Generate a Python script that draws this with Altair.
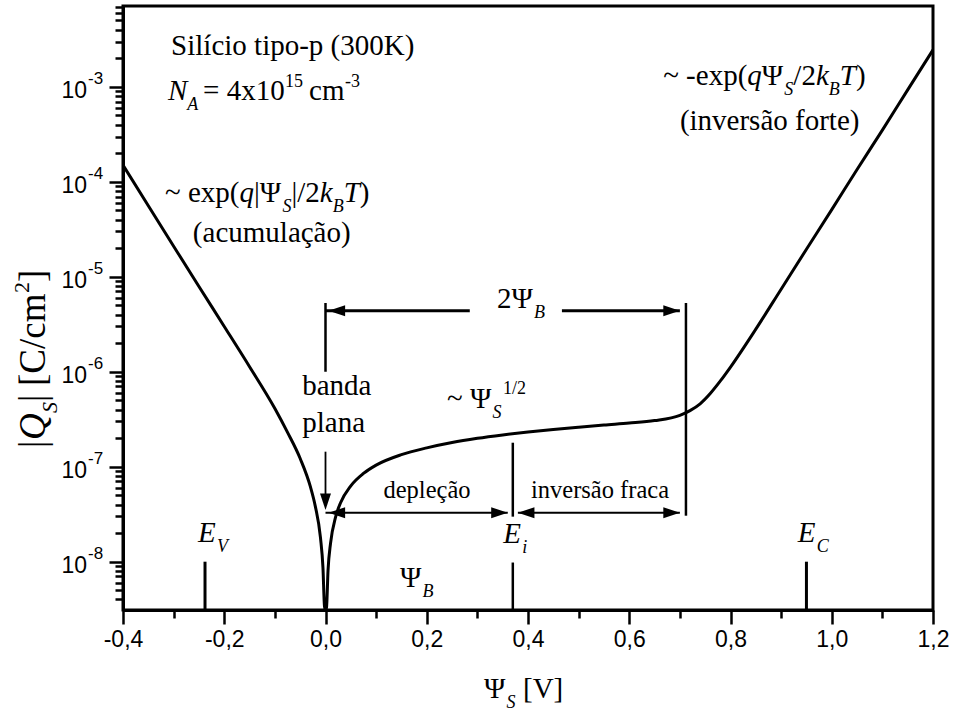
import altair as alt
import pandas as pd

# |Qs| versus surface potential, p-type Si (NA = 4e15 cm^-3, 300 K)
psi_s = [-0.40, -0.35, -0.30, -0.25, -0.20, -0.15, -0.10, -0.075, -0.05, -0.03,
         -0.02, -0.01, -0.005, -0.002, 0.0, 0.002, 0.005, 0.01, 0.02, 0.03,
         0.05, 0.075, 0.10, 0.15, 0.20, 0.25, 0.30, 0.35, 0.40, 0.45,
         0.50, 0.55, 0.60, 0.65, 0.70, 0.72, 0.74, 0.76, 0.78, 0.80,
         0.85, 0.90, 0.95, 1.00, 1.05, 1.10, 1.15, 1.20]
q_s = [1.5e-4, 5.6e-5, 2.1e-5, 7.9e-6, 3.0e-6, 1.13e-6, 4.1e-7, 2.3e-7, 1.22e-7, 6.2e-8,
       3.8e-8, 1.8e-8, 8.6e-9, 3.4e-9, 3.1e-9, 3.3e-9, 8.1e-9, 1.57e-8, 2.96e-8, 4.2e-8,
       6.3e-8, 8.5e-8, 1.04e-7, 1.34e-7, 1.58e-7, 1.80e-7, 1.99e-7, 2.16e-7, 2.32e-7, 2.47e-7,
       2.61e-7, 2.75e-7, 2.88e-7, 3.06e-7, 3.48e-7, 3.9e-7, 4.6e-7, 5.9e-7, 8.0e-7, 1.12e-6,
       2.81e-6, 7.4e-6, 1.95e-5, 5.1e-5, 1.35e-4, 3.5e-4, 9.3e-4, 2.45e-3]

# characteristic potentials (V)
psi_ev = -0.238
psi_ei = 0.370
psi_2b = 0.712
psi_ec = 0.950
psi_fb = 0.0

# vertical marker segments: x, lower |Qs|, upper |Qs|, stroke width
seg_x = [psi_ev, psi_ec, psi_ei, psi_ei, psi_fb, psi_fb, psi_2b]
seg_lo = [3.1e-9, 3.1e-9, 3.1e-9, 2.98e-8, 1.0e-6, 4.6e-8, 3.05e-8]
seg_hi = [1.0e-8, 1.0e-8, 9.8e-9, 1.79e-7, 5.3e-6, 1.44e-7, 5.3e-6]
seg_w = [3, 3, 2.5, 2.5, 2.5, 1.8, 2.5]

# horizontal arrow shafts: start, end, level, stroke width
arr_x1 = [0.0, 0.467, 0.0, 0.38]
arr_x2 = [0.285, 0.70, 0.36, 0.70]
arr_y = [4.39e-6, 4.39e-6, 3.28e-8, 3.28e-8]
arr_w = [3, 3, 2, 2]

# arrow tips
tip_r_x = [0.700, 0.360, 0.700]
tip_r_y = [4.39e-6, 3.28e-8, 3.28e-8]
tip_l_x = [0.006, 0.006, 0.380]
tip_l_y = [4.39e-6, 3.28e-8, 3.28e-8]
tip_d_x = [psi_fb]
tip_d_y = [3.5e-8]

# y tick labels (decades)
dec_vals = [1e-3, 1e-4, 1e-5, 1e-6, 1e-7, 1e-8]
dec_exp = ["-3", "-4", "-5", "-6", "-7", "-8"]

X_DOM = [-0.4, 1.2]
Y_DOM = [3.1e-9, 7.1e-3]
XS = alt.Scale(domain=X_DOM, nice=False, zero=False)
YS = alt.Scale(type="log", domain=Y_DOM, nice=False)

SERIF = "Liberation Serif"
SANS = "Liberation Sans"
BIG = 29
SMALL = 18

x_ticks = [round(-0.4 + 0.1 * i, 1) for i in range(17)]
y_ticks = [k * 10.0 ** n for n in range(-9, -2) for k in range(1, 10)]
y_ticks = [v for v in y_ticks if Y_DOM[0] <= v <= Y_DOM[1]]

X_MAJOR = "abs(datum.value*5 - round(datum.value*5)) < 0.001"
Y_MAJOR = "abs(log(datum.value)/LN10 - round(log(datum.value)/LN10)) < 0.001"

x_axis = alt.Axis(
    values=x_ticks,
    labelExpr=X_MAJOR + " ? replace(replace(format(datum.value, '.1f'), '.', ','), '\u2212', '-') : ''",
    tickSize={"condition": {"test": X_MAJOR, "value": 14}, "value": 8},
    title=None, grid=False, domainColor="black", domainWidth=3,
    tickColor="black", tickWidth=2.5, labelFont=SANS, labelFontSize=23,
    labelColor="black", labelPadding=4, labelFlush=False, labelOverlap=False,
)
y_axis = alt.Axis(
    values=y_ticks, labels=False, title=None, grid=False,
    tickSize={"condition": {"test": Y_MAJOR, "value": 14}, "value": 8},
    domainColor="black", domainWidth=3, tickColor="black", tickWidth=2.5,
)


def X(field):
    return alt.X(field, scale=XS, axis=x_axis)


def Y(field):
    return alt.Y(field, scale=YS, axis=y_axis)


curve = alt.Chart(pd.DataFrame({"psi": psi_s, "q": q_s})).mark_line(
    color="black", strokeWidth=3, interpolate="monotone", clip=True
).encode(x=X("psi:Q"), y=Y("q:Q"))

layers = [curve]

for x, lo, hi, w in zip(seg_x, seg_lo, seg_hi, seg_w):
    layers.append(alt.Chart(pd.DataFrame({"psi": [x], "q": [lo], "q2": [hi]})).mark_rule(
        color="black", strokeWidth=w
    ).encode(x=X("psi:Q"), y=Y("q:Q"), y2="q2:Q"))

for x1, x2, y, w in zip(arr_x1, arr_x2, arr_y, arr_w):
    layers.append(alt.Chart(pd.DataFrame({"psi": [x1], "psi2": [x2], "q": [y]})).mark_rule(
        color="black", strokeWidth=w
    ).encode(x=X("psi:Q"), x2="psi2:Q", y=Y("q:Q")))


def tips(xs, ys, path):
    return alt.Chart(pd.DataFrame({"psi": xs, "q": ys})).mark_point(
        shape=path, filled=True, color="black", opacity=1, size=1100, strokeWidth=0
    ).encode(x=X("psi:Q"), y=Y("q:Q"))


layers.append(tips(tip_r_x, tip_r_y, "M0,0 L-1,-0.33 L-1,0.33 Z"))
layers.append(tips(tip_l_x, tip_l_y, "M0,0 L1,-0.33 L1,0.33 Z"))
layers.append(tips(tip_d_x, tip_d_y, "M0,0 L-0.33,-1 L0.33,-1 Z"))

# decade labels on the |Qs| axis
ylab = pd.DataFrame({"q": dec_vals, "e": dec_exp, "b": ["10"] * len(dec_vals)})
layers.append(alt.Chart(ylab).mark_text(
    align="right", baseline="middle", font=SANS, fontSize=23, dx=-36, dy=4, color="black"
).encode(x=alt.value(0), y=Y("q:Q"), text="b:N"))
layers.append(alt.Chart(ylab).mark_text(
    align="left", baseline="middle", font=SANS, fontSize=17, dx=-35, dy=-8, color="black"
).encode(x=alt.value(0), y=Y("q:Q"), text="e:N"))


def piece(x, y, s, dx=0, dy=0, size=BIG, italic=False, align="left"):
    return alt.Chart(pd.DataFrame({"psi": [x], "q": [y], "t": [s]})).mark_text(
        align=align, baseline="alphabetic", font=SERIF, fontSize=size,
        fontStyle="italic" if italic else "normal", dx=dx, dy=dy, color="black"
    ).encode(x=X("psi:Q"), y=Y("q:Q"), text="t:N")


# annotations: anchor (V, C/cm^2) and pieces (text, dx, dy, size, italic)
notes = [
    (-0.305, 2.17e-3, [("Silício tipo-p (300K)", 0, 0, BIG, False)]),
    (-0.311, 7.3e-4, [("N", 0, 0, BIG, True), ("A", 19.3, 10, SMALL, True),
                      ("= 4x10", 35, 0, BIG, False), ("15", 117, -13, SMALL, False),
                      ("cm", 141, 0, BIG, False), ("-3", 177, -13, SMALL, False)]),
    (-0.317, 6.16e-5, [("~ exp(", 0, 0, BIG, False), ("q", 74.5, 0, BIG, True),
                       ("|Ψ", 89, 0, BIG, False), ("S", 117.4, 10, SMALL, True),
                       ("|/2", 126.4, 0, BIG, False), ("k", 154.8, 0, BIG, True),
                       ("B", 167.7, 10, SMALL, True), ("T", 178.7, 0, BIG, True),
                       (")", 194.8, 0, BIG, False)]),
    (-0.262, 2.34e-5, [("(acumulação)", 0, 0, BIG, False)]),
    (0.667, 1.05e-3, [("~ -exp(", 0, 0, BIG, False), ("q", 84.1, 0, BIG, True),
                      ("Ψ", 98.6, 0, BIG, False), ("S", 121.2, 10, SMALL, True),
                      ("/2", 130.2, 0, BIG, False), ("k", 152.8, 0, BIG, True),
                      ("B", 165.7, 10, SMALL, True), ("T", 176.7, 0, BIG, True),
                      (")", 192.8, 0, BIG, False)]),
    (0.700, 3.53e-4, [("(inversão forte)", 0, 0, BIG, False)]),
    (0.339, 4.72e-6, [("2Ψ", 0, 0, BIG, False), ("B", 37, 10, SMALL, True)]),
    (-0.046, 5.73e-7, [("banda", 0, 0, BIG, False)]),
    (-0.046, 2.34e-7, [("plana", 0, 0, BIG, False)]),
    (0.240, 4.18e-7, [("~ Ψ", 0, 0, BIG, False), ("S", 45.6, 10, SMALL, True),
                      ("1/2", 56, -14, SMALL, False)]),
    (0.351, 1.585e-8, [("E", 0, 0, BIG, True), ("i", 19, 10, SMALL, True)]),
    (0.147, 5.46e-9, [("Ψ", 0, 0, BIG, False), ("B", 22.6, 10, SMALL, True)]),
    (-0.252, 1.625e-8, [("E", 0, 0, BIG, True), ("V", 19, 10, SMALL, True)]),
    (0.933, 1.625e-8, [("E", 0, 0, BIG, True), ("C", 19, 10, SMALL, True)]),
]
for ax, ay, parts in notes:
    for s, dx, dy, size, it in parts:
        layers.append(piece(ax, ay, s, dx, dy, size, it))

# centred region labels
layers.append(piece(0.2005, 4.72e-8, "depleção", size=24.5, align="center"))
layers.append(piece(0.5422, 4.72e-8, "inversão fraca", size=24.5, align="center"))


def title_piece(px, py, s, dx=0, dy=0, size=BIG, italic=False, angle=0):
    return alt.Chart(pd.DataFrame({"t": [s]})).mark_text(
        align="left", baseline="alphabetic", font=SERIF, fontSize=size,
        fontStyle="italic" if italic else "normal", dx=dx, dy=dy, angle=angle, color="black"
    ).encode(x=alt.value(px), y=alt.value(py), text="t:N")


# x axis title: Psi_S [V]
for s, dx, dy, size, it in [("Ψ", 0, 0, BIG, False), ("S", 22.6, 10, SMALL, True),
                            ("[V]", 39, 0, BIG, False)]:
    layers.append(title_piece(361, 692, s, dx, dy, size, it))

# y axis title: |Q_S| [C/cm^2], reading upwards
TB, TS = 37, 22
for s, dx, dy, size, it in [("|", 0, 0, TB, False), ("Q", 8, 0, TB, True),
                            ("S", 35, 12, TS, True), ("|", 46, 0, TB, False),
                            ("[C/cm", 62, 0, TB, False), ("2", 155, -16, TS, False),
                            ("]", 166, 0, TB, False)]:
    layers.append(title_piece(-78, 442, s, dx, dy, size, it, angle=270))

chart = alt.layer(*layers).properties(
    width=810, height=604,
    autosize=alt.AutoSizeParams(type="none"),
    padding={"left": 123, "top": 6, "right": 20, "bottom": 101},
    background="white",
).configure_view(stroke="black", strokeWidth=3)

chart.save("out.html", embed_options={"renderer": "svg", "actions": False})
